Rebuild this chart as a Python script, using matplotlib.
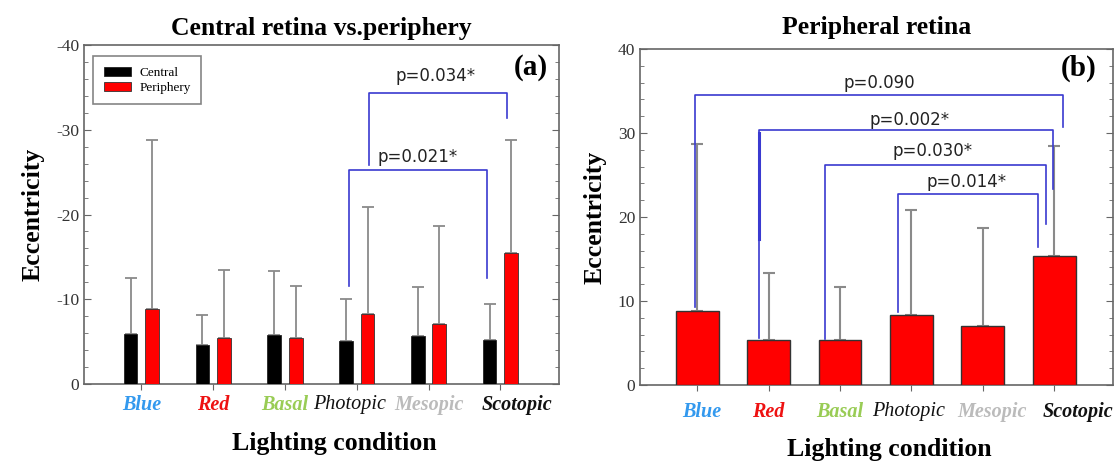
import numpy as np
import matplotlib
matplotlib.use('Agg')
from matplotlib import pyplot as plt
from matplotlib.ticker import MultipleLocator
from matplotlib.transforms import ScaledTranslation

plt.rcParams['font.family'] = ['Liberation Serif', 'DejaVu Serif']
plt.rcParams['axes.unicode_minus'] = False

conditions = ['Blue', 'Red', 'Basal', 'Photopic', 'Mesopic', 'Scotopic']
label_colors = ['#3399ee', '#ee1111', '#99cc55', '#111111', '#bbbbbb', '#111111']
label_weights = ['bold', 'bold', 'bold', 'normal', 'bold', 'bold']

# panel (a): central vs periphery (negative eccentricity)
central = [-5.9, -4.6, -5.8, -5.1, -5.7, -5.2]
central_sd_top = [-12.5, -8.2, -13.3, -10.0, -11.4, -9.4]
periphery = [-8.9, -5.4, -5.4, -8.3, -7.1, -15.4]
periphery_sd_top = [-28.8, -13.5, -11.6, -20.9, -18.7, -28.8]

# panel (b): peripheral retina
peripheral = [8.8, 5.3, 5.3, 8.3, 7.0, 15.3]
peripheral_sd_top = [28.7, 13.3, 11.7, 20.8, 18.7, 28.5]

# brackets: (x_left, x_right, y_top, y_left_end, y_right_end, text, text_x, text_y)
brackets_a = [
    (3.17, 5.10, -34.3, -25.8, -31.4, 'p=0.034*', 4.1, -36.3),
    (2.89, 4.82, -25.3, -11.6, -12.5, 'p=0.021*', 3.85, -26.8),
]
brackets_b = [
    (-0.03, 5.12, 34.5, 9.3, 30.7, 'p=0.090', 2.55, 35.9),
    (0.87, 4.98, 30.3, 5.6, 23.3, 'p=0.002*', 2.98, 31.5),
    (1.79, 4.88, 26.2, 5.5, 19.2, 'p=0.030*', 3.3, 27.8),
    (2.81, 4.77, 22.7, 8.7, 16.4, 'p=0.014*', 3.78, 24.2),
]

blue = '#3a3ad0'
grey = '#8a8a8a'
spine = '#666666'

fig = plt.figure(figsize=(11.16, 4.63), dpi=100)
ax1 = fig.add_axes([0.0753, 0.1706, 0.4257, 0.7322])
ax2 = fig.add_axes([0.5735, 0.1685, 0.4235, 0.7257])

x = np.arange(len(conditions))


def style_axes(ax, xpad, shifts):
    ax.set_xlim(-0.8, 5.82)
    ax.yaxis.set_major_locator(MultipleLocator(10))
    ax.yaxis.set_minor_locator(MultipleLocator(2))
    ax.tick_params(axis='y', which='both', direction='in', left=True, right=True,
                   colors=spine, labelcolor='#333333', labelsize=12.5)
    ax.tick_params(axis='y', which='major', length=5)
    ax.tick_params(axis='y', which='minor', length=3)
    ax.tick_params(axis='x', direction='out', length=4, colors=spine, pad=xpad)
    ax.set_xticks(x)
    ax.set_xticklabels(conditions, fontsize=14.5, style='italic')
    for lab, c, w, s in zip(ax.get_xticklabels(), label_colors, label_weights, shifts):
        lab.set_color(c)
        lab.set_fontweight(w)
        # labels in the original are not all centred on their ticks
        lab.set_transform(lab.get_transform() + ScaledTranslation(s / 100, 0, fig.dpi_scale_trans))
    for s in ax.spines.values():
        s.set_color(spine)
        s.set_linewidth(1.2)
    ax.set_ylabel('Eccentricity', fontsize=18.5, fontweight='bold', labelpad=8)
    ax.set_xlabel('Lighting condition', fontsize=18.5, fontweight='bold', labelpad=12)
    ax.xaxis.label.set_x(0.527)


def draw_brackets(ax, brackets):
    for xl, xr, yt, yl, yr, txt, tx, ty in brackets:
        ax.plot([xl, xl, xr, xr], [yl, yt, yt, yr], color=blue, lw=1.2, zorder=4)
        ax.text(tx, ty, txt, fontsize=12, family='DejaVu Sans', ha='center', va='center',
                color='#222222')


# panel (a)
off = 0.15
ax1.bar(x - off, central, width=0.19, color='black', edgecolor='#222222', lw=0.6,
        label='Central', zorder=3)
ax1.bar(x + off, periphery, width=0.19, color='#ff0000', edgecolor='#333333', lw=0.6,
        label='Periphery', zorder=3)
for xs, v, t in [(x - off, central, central_sd_top), (x + off, periphery, periphery_sd_top)]:
    d = np.array(v) - np.array(t)
    ax1.errorbar(xs, v, yerr=[d, np.zeros_like(d)], fmt='none', ecolor=grey,
                 elinewidth=1.3, capsize=4, capthick=1.3, zorder=2)
ax1.set_ylim(0, -40)
style_axes(ax1, 4, [0, 0, 0, -7, 0, 17])
draw_brackets(ax1, brackets_a)
ax1.set_title('Central retina vs.periphery', fontsize=18.5, fontweight='bold', pad=7)
ax1.text(0.977, 0.935, '(a)', transform=ax1.transAxes, fontsize=21, fontweight='bold',
         ha='right', va='center')
leg = ax1.legend(loc='upper left', bbox_to_anchor=(0.019, 0.967), fontsize=9.5,
                 fancybox=False, edgecolor=spine, handlelength=2.1, handleheight=0.7,
                 borderpad=0.8, labelspacing=0.2, handletextpad=0.6, borderaxespad=0)
leg.get_frame().set_linewidth(1.2)

# panel (b)
ax2.bar(x, peripheral, width=0.6, color='#ff0000', edgecolor='#333333', lw=1.0, zorder=3)
d = np.array(peripheral_sd_top) - np.array(peripheral)
ax2.errorbar(x, peripheral, yerr=[np.zeros_like(d), d], fmt='none', ecolor=grey,
             elinewidth=1.5, capsize=4, capthick=1.5, zorder=2)
ax2.set_ylim(0, 40)
style_axes(ax2, 8, [5, 0, 0, -3, 9, 24])
draw_brackets(ax2, brackets_b)
ax2.plot([0.87, 0.87], [30.0, 17.4], color=blue, lw=2.2, zorder=4)
ax2.set_title('Peripheral retina', fontsize=18.5, fontweight='bold', pad=11)
ax2.text(0.966, 0.943, '(b)', transform=ax2.transAxes, fontsize=21, fontweight='bold',
         ha='right', va='center')

fig.savefig('out.png', dpi=100)
